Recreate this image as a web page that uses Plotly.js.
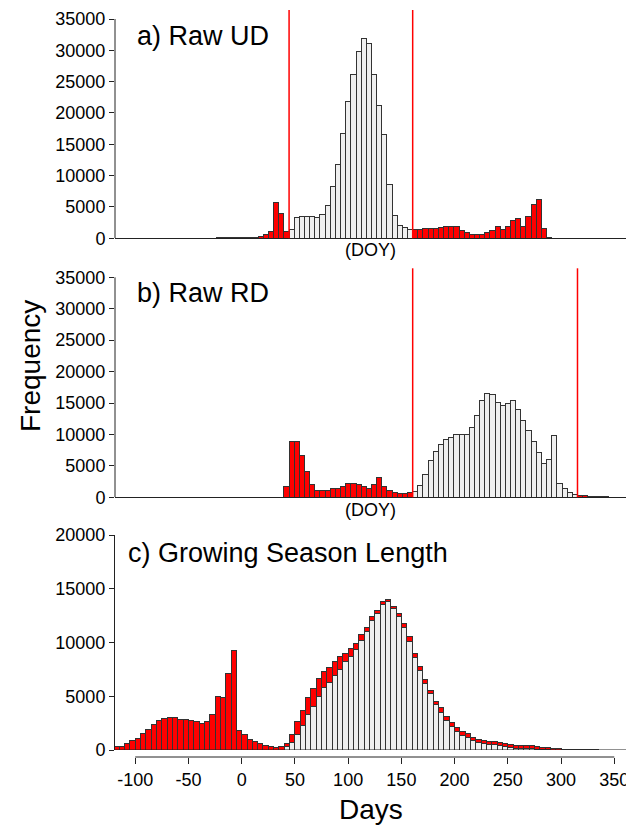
<!DOCTYPE html>
<html><head><meta charset="utf-8">
<script src="https://cdn.plot.ly/plotly-3.0.1.min.js"></script>
<style>html,body{margin:0;padding:0;background:#fff}#chart{width:626px;height:825px}</style>
</head><body><div id="chart"></div>
<script>
// ---------- data ----------
const binWidth = 5;

// a) Raw UD (DOY), bin centres and counts
const udCenters = [-27.5,-22.5,-17.5,-12.5,-7.5,-2.5,2.5,7.5,12.5,17.5,22.5,27.5,32.5,37.5,
  42.5,47.5,52.5,57.5,62.5,67.5,72.5,77.5,82.5,87.5,92.5,97.5,102.5,107.5,112.5,117.5,122.5,127.5,132.5,137.5,142.5,147.5,152.5,157.5,
  162.5,167.5,172.5,177.5,182.5,187.5,192.5,197.5,202.5,207.5,212.5,217.5,222.5,227.5,232.5,237.5,242.5,247.5,252.5,257.5,262.5,267.5,272.5,277.5,282.5,287.5,292.5];
const udCounts = [60,80,90,100,110,120,130,160,320,640,1120,5740,3990,1010,
  1440,3350,3510,3510,3510,3400,3830,5270,8240,11760,16760,21860,26120,29890,31860,31120,26220,21220,16540,8560,3670,1970,1650,1380,
  1440,1440,1600,1490,1600,1700,1810,1910,1810,1280,960,590,530,530,900,1220,1810,1440,1910,2820,3190,1910,3460,5430,6120,1600,100];
const udLimits = [40, 160];

// b) Raw RD (DOY)
const rdCenters = [37.5,42.5,47.5,52.5,57.5,62.5,67.5,72.5,77.5,82.5,87.5,92.5,97.5,102.5,107.5,112.5,117.5,122.5,127.5,132.5,137.5,142.5,147.5,152.5,157.5,
  162.5,167.5,172.5,177.5,182.5,187.5,192.5,197.5,202.5,207.5,212.5,217.5,222.5,227.5,232.5,237.5,242.5,247.5,252.5,257.5,262.5,267.5,272.5,277.5,282.5,287.5,292.5,297.5,302.5,307.5,312.5,317.5,
  322.5,327.5,332.5,337.5,342.5,347.5];
const rdCounts = [1700,8800,8800,6580,4030,2070,1110,1110,1110,1380,1380,1750,2120,2230,2070,1700,1330,1960,3180,1700,1010,740,530,530,690,
  850,1910,3550,5830,7260,8430,9170,9540,10020,10020,10070,11130,13040,15480,16540,16380,15060,14530,14950,15380,14000,12200,10660,8850,7050,5410,5990,9860,2230,1430,800,420,
  320,210,100,80,70,60];
const rdLimits = [160, 320];

// c) Growing Season Length (days)
const gslCenters = [-117.5,-112.5,-107.5,-102.5,-97.5,-92.5,-87.5,-82.5,-77.5,-72.5,-67.5,-62.5,-57.5,-52.5,-47.5,-42.5,-37.5,-32.5,-27.5,-22.5,-17.5,-12.5,-7.5,-2.5,
  2.5,7.5,12.5,17.5,22.5,27.5,32.5,37.5,42.5,47.5,52.5,57.5,62.5,67.5,72.5,77.5,82.5,87.5,92.5,97.5,102.5,107.5,112.5,117.5,122.5,127.5,132.5,137.5,142.5,147.5,
  152.5,157.5,162.5,167.5,172.5,177.5,182.5,187.5,192.5,197.5,202.5,207.5,212.5,217.5,222.5,227.5,232.5,237.5,242.5,247.5,252.5,257.5,262.5,267.5,272.5,277.5,
  282.5,287.5,292.5,297.5,302.5,307.5,312.5,317.5,322.5,327.5,332.5];
const gslValid = [0,0,0,0,0,0,0,0,0,0,0,0,0,0,0,0,0,0,0,0,0,0,0,0,0,0,0,0,0,0,0,0,
  300,690,1470,2250,3280,4060,4940,5840,6310,6970,7470,8220,8720,9310,10220,11000,12090,12690,13560,13780,13130,12410,11380,10130,8590,7440,6190,5220,4220,3500,
  2750,2190,1690,1310,1130,880,690,590,530,470,380,310,220,160,130,130,100,60,60,30,0,
  0,0,0,0,0,0,0,0];
const gslInvalid = [310,370,590,900,1090,1490,1920,2390,2730,2910,3070,3010,2850,2850,2760,2670,2510,2670,3290,5020,4870,7160,9210,1860,1450,1000,775,590,430,310,270,310,
  300,780,1220,1470,1560,1630,1680,1440,1410,1220,1190,780,720,630,530,410,350,280,220,190,250,310,370,400,410,370,370,340,310,410,
  380,340,440,380,370,310,280,290,280,280,310,320,280,280,310,310,310,220,160,160,130,
  100,70,50,40,30,25,20,15];

const doyTicks = [0,5000,10000,15000,20000,25000,30000,35000];
const gslYTicks = [0,5000,10000,15000,20000];
const gslXTicks = [-100,-50,0,50,100,150,200,250,300,350];
const gslXTickLabels = ['-100','-50','0','50','100','150','200','250','300','350'];

// ---------- styling ----------
const RED = '#ff0000', GREY = '#efefef', EDGE = '#333333', AX = '#222222';
const FONT = 'Liberation Sans, Arial, Helvetica, sans-serif';
const inRange = (c, lim) => c > lim[0] && c < lim[1];

const traces = [
  {type:'bar', x:udCenters, y:udCounts, width:binWidth, xaxis:'x', yaxis:'y',
   marker:{color:udCenters.map(c => inRange(c, udLimits) ? GREY : RED), line:{color:EDGE, width:1}}},
  {type:'bar', x:rdCenters, y:rdCounts, width:binWidth, xaxis:'x2', yaxis:'y2',
   marker:{color:rdCenters.map(c => inRange(c, rdLimits) ? GREY : RED), line:{color:EDGE, width:1}}},
  {type:'bar', x:gslCenters, y:gslValid, width:binWidth, xaxis:'x3', yaxis:'y3',
   marker:{color:GREY, line:{color:EDGE, width:1}}},
  {type:'bar', x:gslCenters, y:gslInvalid, width:binWidth, xaxis:'x3', yaxis:'y3',
   marker:{color:RED, line:{color:EDGE, width:1}}}
];

const H = 825;
const py = px => 1 - px / H;           // pixel row -> paper fraction
const doyRange = [-129, 367.1];
const doyTop = 36436;

const hiddenX = {range:doyRange, showticklabels:false, ticks:'', showgrid:false, zeroline:false,
  showline:true, linecolor:AX, linewidth:1, fixedrange:true};
const doyY = {range:[0, doyTop], tickvals:doyTicks, tickformat:'d', ticks:'outside', ticklen:5,
  tickcolor:AX, showgrid:false, zeroline:false, showline:false, fixedrange:true,
  tickfont:{size:18, family:FONT, color:'#000'}};

const layout = {
  width:626, height:825,
  margin:{l:115, r:0, t:0, b:0},
  paper_bgcolor:'#ffffff', plot_bgcolor:'rgba(0,0,0,0)',
  barmode:'stack', bargap:0, showlegend:false,
  font:{family:FONT, color:'#000', size:18},
  xaxis:Object.assign({anchor:'y', domain:[0,1]}, hiddenX),
  yaxis:Object.assign({anchor:'x', domain:[py(238.3), py(10)]}, doyY),
  xaxis2:Object.assign({anchor:'y2', domain:[0,1]}, hiddenX),
  yaxis2:Object.assign({anchor:'x2', domain:[py(497.3), py(268.3)]}, doyY),
  xaxis3:{anchor:'free', position:py(757), domain:[0,1], range:[-119, 361],
    tickvals:gslXTicks, ticktext:gslXTickLabels, ticks:'outside', ticklen:6, tickcolor:AX,
    ticklabeloverflow:'allow',
    showgrid:false, zeroline:false, showline:false, fixedrange:true,
    tickfont:{size:18, family:FONT, color:'#000'}},
  yaxis3:{anchor:'x3', domain:[py(750), py(535)], range:[0,20000], tickvals:gslYTicks, tickformat:'d',
    ticks:'outside', ticklen:5, tickcolor:AX, showgrid:false, zeroline:false,
    showline:true, linecolor:AX, linewidth:1, fixedrange:true,
    tickfont:{size:18, family:FONT, color:'#000'}},
  shapes:[
    // validity limits
    ...udLimits.map(v => ({type:'line', xref:'x', yref:'y domain', x0:v, x1:v, y0:0, y1:1, line:{color:RED, width:1.5}, layer:'above'})),
    ...rdLimits.map(v => ({type:'line', xref:'x2', yref:'y2 domain', x0:v, x1:v, y0:0, y1:1, line:{color:RED, width:1.5}, layer:'above'})),
    // y-axis lines of panels a and b (drawn only to the last tick)
    {type:'line', xref:'x domain', yref:'y', x0:0, x1:0, y0:0, y1:doyTicks[doyTicks.length-1], line:{color:AX, width:1}, layer:'above'},
    {type:'line', xref:'x2 domain', yref:'y2', x0:0, x1:0, y0:0, y1:doyTicks[doyTicks.length-1], line:{color:AX, width:1}, layer:'above'},
    // panel c baseline and tick axis line
    {type:'line', xref:'x3 domain', yref:'y3', x0:0, x1:1, y0:0, y1:0, line:{color:AX, width:1}, layer:'above'},
    {type:'line', xref:'x3', yref:'paper', x0:gslXTicks[0], x1:gslXTicks[gslXTicks.length-1], y0:py(757), y1:py(757), line:{color:AX, width:1}, layer:'above'}
  ],
  annotations:[
    {text:'a) Raw UD', xref:'paper', yref:'paper', x:(135-115)/511, y:py(36), xanchor:'left', yanchor:'middle', showarrow:false, font:{size:27}},
    {text:'b) Raw RD', xref:'paper', yref:'paper', x:(135-115)/511, y:py(293), xanchor:'left', yanchor:'middle', showarrow:false, font:{size:27}},
    {text:'c) Growing Season Length', xref:'paper', yref:'paper', x:(126-115)/511, y:py(553), xanchor:'left', yanchor:'middle', showarrow:false, font:{size:27}},
    {text:'(DOY)', xref:'paper', yref:'paper', x:0.5, y:py(250), xanchor:'center', yanchor:'middle', showarrow:false, font:{size:18}},
    {text:'(DOY)', xref:'paper', yref:'paper', x:0.5, y:py(510), xanchor:'center', yanchor:'middle', showarrow:false, font:{size:18}},
    {text:'Frequency', xref:'paper', yref:'paper', x:(30-115)/511, y:py(366), xanchor:'center', yanchor:'middle', textangle:-90, showarrow:false, font:{size:28}},
    {text:'Days', xref:'paper', yref:'paper', x:0.5, y:py(809), xanchor:'center', yanchor:'middle', showarrow:false, font:{size:28}}
  ]
};

Plotly.newPlot('chart', traces, layout, {staticPlot:true, displayModeBar:false});
</script>
</body></html>
